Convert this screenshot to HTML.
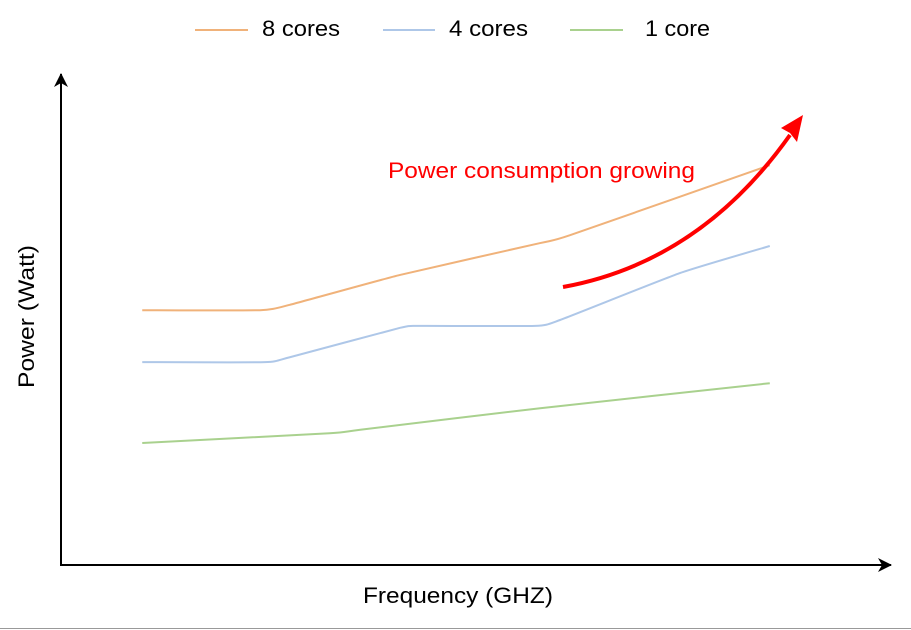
<!DOCTYPE html>
<html><head><meta charset="utf-8"><style>
html,body{margin:0;padding:0;background:#fff;}
svg{display:block;font-family:"Liberation Sans",sans-serif;}
</style></head><body>
<svg id="chart" width="911" height="630" viewBox="0 0 911 630">
  <defs>
    <marker id="ah" markerWidth="14" markerHeight="14" refX="13" refY="7" orient="auto" markerUnits="userSpaceOnUse">
      <path d="M0,0 L14,7 L0,14 L4,7 Z" fill="#000"/>
    </marker>
  </defs>
  <g>
    <line x1="195" y1="30" x2="248" y2="30" stroke="#f0b27a" stroke-width="2"/>
    <text x="262" y="36" font-size="22" textLength="78" lengthAdjust="spacingAndGlyphs" fill="#000">8 cores</text>
    <line x1="383" y1="30" x2="435" y2="30" stroke="#aec7e8" stroke-width="2"/>
    <text x="449" y="36" font-size="22" textLength="79" lengthAdjust="spacingAndGlyphs" fill="#000">4 cores</text>
    <line x1="570" y1="30" x2="623" y2="30" stroke="#a9d18e" stroke-width="2"/>
    <text x="645" y="36" font-size="22" textLength="65" lengthAdjust="spacingAndGlyphs" fill="#000">1 core</text>
  </g>
  <line x1="61" y1="565" x2="61" y2="74" stroke="#000" stroke-width="2" marker-end="url(#ah)"/>
  <line x1="60" y1="565" x2="891" y2="565" stroke="#000" stroke-width="2" marker-end="url(#ah)"/>
  <text x="363" y="603" font-size="22" textLength="190" lengthAdjust="spacingAndGlyphs">Frequency (GHZ)</text>
  <text transform="translate(34,388) rotate(-90)" font-size="22" textLength="143" lengthAdjust="spacingAndGlyphs">Power (Watt)</text>
  <g id="series"></g>
  <text x="388" y="178" font-size="22" textLength="307" lengthAdjust="spacingAndGlyphs" fill="#ff0000">Power consumption growing</text>
  <path d="M563,287 Q700,262 790,135" fill="none" stroke="#ff0000" stroke-width="4"/>
  <path d="M803,115 L797,142 L790,133 L781,128 Z" fill="#ff0000"/>
  <line x1="0" y1="628.5" x2="911" y2="628.5" stroke="#999" stroke-width="1"/>
</svg>
<script>
const x8 = [9.8, 24, 27.6, 40.9, 57.8, 61.4, 85.5];
const y8 = [52, 52, 53.1, 59.2, 65.7, 67.3, 81.6];
const x4 = [9.8, 24.6, 27.6, 40.9, 43.3, 57.2, 60.2, 74.7, 85.5];
const y4 = [41.4, 41.4, 42.4, 48.4, 48.8, 48.8, 50, 59.6, 65.1];
const x1 = [9.8, 32.4, 36.1, 57.8, 85.5];
const y1 = [24.9, 26.9, 27.6, 32, 37.1];
function xs(v){return 61 + v * 8.29;}
function ys(v){return 565 - v * 4.9;}
function pathFor(xa, ya){
  const p = xa.map((v,i)=>[xs(v), ys(ya[i])]);
  let d = 'M' + p[0][0] + ',' + p[0][1];
  const t = 0.5;
  for (let i=0;i<p.length-1;i++){
    const p0 = p[i-1]||p[i], p1=p[i], p2=p[i+1], p3=p[i+2]||p[i+1];
    const c1x = p1[0] + (p2[0]-p0[0])/6*t, c1y = p1[1] + (p2[1]-p0[1])/6*t;
    const c2x = p2[0] - (p3[0]-p1[0])/6*t, c2y = p2[1] - (p3[1]-p1[1])/6*t;
    d += ' C'+c1x+','+c1y+' '+c2x+','+c2y+' '+p2[0]+','+p2[1];
  }
  return d;
}
const g = document.getElementById('series');
function add(xa, ya, color, name){
  const el = document.createElementNS('http://www.w3.org/2000/svg','path');
  el.setAttribute('d', pathFor(xa, ya));
  el.setAttribute('fill','none');
  el.setAttribute('stroke', color);
  el.setAttribute('stroke-width','2');
  
  
  g.appendChild(el);
}
add(x8, y8, '#f0b27a', 'line-8-cores');
add(x4, y4, '#aec7e8', 'line-4-cores');
add(x1, y1, '#a9d18e', 'line-1-core');
</script>
</body></html>
